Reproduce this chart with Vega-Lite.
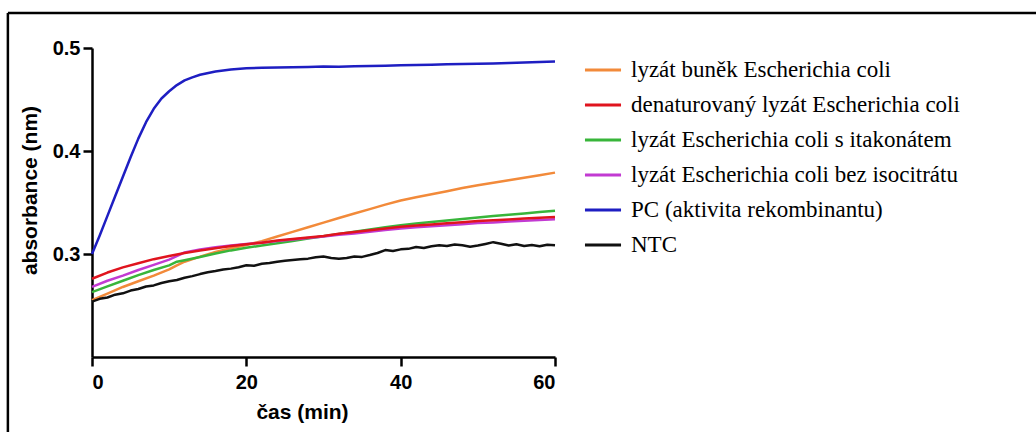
{
  "$schema": "https://vega.github.io/schema/vega-lite/v6.json",
  "width": 463,
  "height": 309,
  "autosize": {"type": "none"},
  "padding": {"left": 92, "top": 48, "right": 481, "bottom": 75},
  "background": "white",
  "config": {"view": {"stroke": null}},
  "datasets": {
    "curves": [
      {"s": "PC (aktivita rekombinantu)", "t": 0, "v": 0.300},
      {"s": "PC (aktivita rekombinantu)", "t": 1, "v": 0.318},
      {"s": "PC (aktivita rekombinantu)", "t": 2, "v": 0.337},
      {"s": "PC (aktivita rekombinantu)", "t": 3, "v": 0.356},
      {"s": "PC (aktivita rekombinantu)", "t": 4, "v": 0.375},
      {"s": "PC (aktivita rekombinantu)", "t": 5, "v": 0.394},
      {"s": "PC (aktivita rekombinantu)", "t": 6, "v": 0.412},
      {"s": "PC (aktivita rekombinantu)", "t": 7, "v": 0.428},
      {"s": "PC (aktivita rekombinantu)", "t": 8, "v": 0.441},
      {"s": "PC (aktivita rekombinantu)", "t": 9, "v": 0.451},
      {"s": "PC (aktivita rekombinantu)", "t": 10, "v": 0.458},
      {"s": "PC (aktivita rekombinantu)", "t": 11, "v": 0.464},
      {"s": "PC (aktivita rekombinantu)", "t": 12, "v": 0.4685},
      {"s": "PC (aktivita rekombinantu)", "t": 13, "v": 0.4715},
      {"s": "PC (aktivita rekombinantu)", "t": 14, "v": 0.474},
      {"s": "PC (aktivita rekombinantu)", "t": 16, "v": 0.4772},
      {"s": "PC (aktivita rekombinantu)", "t": 18, "v": 0.4792},
      {"s": "PC (aktivita rekombinantu)", "t": 20, "v": 0.4803},
      {"s": "PC (aktivita rekombinantu)", "t": 22, "v": 0.4808},
      {"s": "PC (aktivita rekombinantu)", "t": 24, "v": 0.4810},
      {"s": "PC (aktivita rekombinantu)", "t": 26, "v": 0.4812},
      {"s": "PC (aktivita rekombinantu)", "t": 28, "v": 0.4815},
      {"s": "PC (aktivita rekombinantu)", "t": 30, "v": 0.4820},
      {"s": "PC (aktivita rekombinantu)", "t": 32, "v": 0.4818},
      {"s": "PC (aktivita rekombinantu)", "t": 34, "v": 0.4822},
      {"s": "PC (aktivita rekombinantu)", "t": 36, "v": 0.4825},
      {"s": "PC (aktivita rekombinantu)", "t": 38, "v": 0.4828},
      {"s": "PC (aktivita rekombinantu)", "t": 40, "v": 0.4832},
      {"s": "PC (aktivita rekombinantu)", "t": 42, "v": 0.4834},
      {"s": "PC (aktivita rekombinantu)", "t": 44, "v": 0.4838},
      {"s": "PC (aktivita rekombinantu)", "t": 46, "v": 0.4842},
      {"s": "PC (aktivita rekombinantu)", "t": 48, "v": 0.4845},
      {"s": "PC (aktivita rekombinantu)", "t": 50, "v": 0.4848},
      {"s": "PC (aktivita rekombinantu)", "t": 52, "v": 0.4850},
      {"s": "PC (aktivita rekombinantu)", "t": 54, "v": 0.4855},
      {"s": "PC (aktivita rekombinantu)", "t": 56, "v": 0.4860},
      {"s": "PC (aktivita rekombinantu)", "t": 58, "v": 0.4865},
      {"s": "PC (aktivita rekombinantu)", "t": 60, "v": 0.4870},

      {"s": "lyzát buněk Escherichia coli", "t": 0, "v": 0.2553},
      {"s": "lyzát buněk Escherichia coli", "t": 2, "v": 0.2615},
      {"s": "lyzát buněk Escherichia coli", "t": 4, "v": 0.2680},
      {"s": "lyzát buněk Escherichia coli", "t": 6, "v": 0.2735},
      {"s": "lyzát buněk Escherichia coli", "t": 8, "v": 0.2790},
      {"s": "lyzát buněk Escherichia coli", "t": 10, "v": 0.2850},
      {"s": "lyzát buněk Escherichia coli", "t": 11, "v": 0.2890},
      {"s": "lyzát buněk Escherichia coli", "t": 12, "v": 0.2925},
      {"s": "lyzát buněk Escherichia coli", "t": 14, "v": 0.2975},
      {"s": "lyzát buněk Escherichia coli", "t": 16, "v": 0.3020},
      {"s": "lyzát buněk Escherichia coli", "t": 18, "v": 0.3055},
      {"s": "lyzát buněk Escherichia coli", "t": 20, "v": 0.3088},
      {"s": "lyzát buněk Escherichia coli", "t": 22, "v": 0.3125},
      {"s": "lyzát buněk Escherichia coli", "t": 24, "v": 0.3170},
      {"s": "lyzát buněk Escherichia coli", "t": 26, "v": 0.3215},
      {"s": "lyzát buněk Escherichia coli", "t": 28, "v": 0.3260},
      {"s": "lyzát buněk Escherichia coli", "t": 30, "v": 0.3305},
      {"s": "lyzát buněk Escherichia coli", "t": 32, "v": 0.3350},
      {"s": "lyzát buněk Escherichia coli", "t": 34, "v": 0.3393},
      {"s": "lyzát buněk Escherichia coli", "t": 36, "v": 0.3436},
      {"s": "lyzát buněk Escherichia coli", "t": 38, "v": 0.3479},
      {"s": "lyzát buněk Escherichia coli", "t": 40, "v": 0.3520},
      {"s": "lyzát buněk Escherichia coli", "t": 42, "v": 0.3550},
      {"s": "lyzát buněk Escherichia coli", "t": 44, "v": 0.3580},
      {"s": "lyzát buněk Escherichia coli", "t": 46, "v": 0.3610},
      {"s": "lyzát buněk Escherichia coli", "t": 48, "v": 0.3640},
      {"s": "lyzát buněk Escherichia coli", "t": 50, "v": 0.3668},
      {"s": "lyzát buněk Escherichia coli", "t": 52, "v": 0.3692},
      {"s": "lyzát buněk Escherichia coli", "t": 54, "v": 0.3716},
      {"s": "lyzát buněk Escherichia coli", "t": 56, "v": 0.3740},
      {"s": "lyzát buněk Escherichia coli", "t": 58, "v": 0.3765},
      {"s": "lyzát buněk Escherichia coli", "t": 60, "v": 0.3790},

      {"s": "lyzát Escherichia coli s itakonátem", "t": 0, "v": 0.2630},
      {"s": "lyzát Escherichia coli s itakonátem", "t": 2, "v": 0.2685},
      {"s": "lyzát Escherichia coli s itakonátem", "t": 4, "v": 0.2740},
      {"s": "lyzát Escherichia coli s itakonátem", "t": 6, "v": 0.2795},
      {"s": "lyzát Escherichia coli s itakonátem", "t": 8, "v": 0.2845},
      {"s": "lyzát Escherichia coli s itakonátem", "t": 10, "v": 0.2890},
      {"s": "lyzát Escherichia coli s itakonátem", "t": 11, "v": 0.2925},
      {"s": "lyzát Escherichia coli s itakonátem", "t": 12, "v": 0.2940},
      {"s": "lyzát Escherichia coli s itakonátem", "t": 14, "v": 0.2970},
      {"s": "lyzát Escherichia coli s itakonátem", "t": 16, "v": 0.3005},
      {"s": "lyzát Escherichia coli s itakonátem", "t": 18, "v": 0.3035},
      {"s": "lyzát Escherichia coli s itakonátem", "t": 20, "v": 0.3060},
      {"s": "lyzát Escherichia coli s itakonátem", "t": 22, "v": 0.3083},
      {"s": "lyzát Escherichia coli s itakonátem", "t": 24, "v": 0.3105},
      {"s": "lyzát Escherichia coli s itakonátem", "t": 26, "v": 0.3127},
      {"s": "lyzát Escherichia coli s itakonátem", "t": 28, "v": 0.3150},
      {"s": "lyzát Escherichia coli s itakonátem", "t": 30, "v": 0.3172},
      {"s": "lyzát Escherichia coli s itakonátem", "t": 32, "v": 0.3194},
      {"s": "lyzát Escherichia coli s itakonátem", "t": 34, "v": 0.3216},
      {"s": "lyzát Escherichia coli s itakonátem", "t": 36, "v": 0.3238},
      {"s": "lyzát Escherichia coli s itakonátem", "t": 38, "v": 0.3260},
      {"s": "lyzát Escherichia coli s itakonátem", "t": 40, "v": 0.3280},
      {"s": "lyzát Escherichia coli s itakonátem", "t": 42, "v": 0.3295},
      {"s": "lyzát Escherichia coli s itakonátem", "t": 44, "v": 0.3310},
      {"s": "lyzát Escherichia coli s itakonátem", "t": 46, "v": 0.3325},
      {"s": "lyzát Escherichia coli s itakonátem", "t": 48, "v": 0.3340},
      {"s": "lyzát Escherichia coli s itakonátem", "t": 50, "v": 0.3355},
      {"s": "lyzát Escherichia coli s itakonátem", "t": 52, "v": 0.3368},
      {"s": "lyzát Escherichia coli s itakonátem", "t": 54, "v": 0.3381},
      {"s": "lyzát Escherichia coli s itakonátem", "t": 56, "v": 0.3394},
      {"s": "lyzát Escherichia coli s itakonátem", "t": 58, "v": 0.3407},
      {"s": "lyzát Escherichia coli s itakonátem", "t": 60, "v": 0.3420},

      {"s": "lyzát Escherichia coli bez isocitrátu", "t": 0, "v": 0.2680},
      {"s": "lyzát Escherichia coli bez isocitrátu", "t": 2, "v": 0.2740},
      {"s": "lyzát Escherichia coli bez isocitrátu", "t": 4, "v": 0.2790},
      {"s": "lyzát Escherichia coli bez isocitrátu", "t": 6, "v": 0.2845},
      {"s": "lyzát Escherichia coli bez isocitrátu", "t": 8, "v": 0.2895},
      {"s": "lyzát Escherichia coli bez isocitrátu", "t": 10, "v": 0.2945},
      {"s": "lyzát Escherichia coli bez isocitrátu", "t": 12, "v": 0.3015},
      {"s": "lyzát Escherichia coli bez isocitrátu", "t": 14, "v": 0.3045},
      {"s": "lyzát Escherichia coli bez isocitrátu", "t": 16, "v": 0.3065},
      {"s": "lyzát Escherichia coli bez isocitrátu", "t": 18, "v": 0.3082},
      {"s": "lyzát Escherichia coli bez isocitrátu", "t": 20, "v": 0.3097},
      {"s": "lyzát Escherichia coli bez isocitrátu", "t": 22, "v": 0.3110},
      {"s": "lyzát Escherichia coli bez isocitrátu", "t": 24, "v": 0.3125},
      {"s": "lyzát Escherichia coli bez isocitrátu", "t": 26, "v": 0.3140},
      {"s": "lyzát Escherichia coli bez isocitrátu", "t": 28, "v": 0.3155},
      {"s": "lyzát Escherichia coli bez isocitrátu", "t": 30, "v": 0.3170},
      {"s": "lyzát Escherichia coli bez isocitrátu", "t": 32, "v": 0.3186},
      {"s": "lyzát Escherichia coli bez isocitrátu", "t": 34, "v": 0.3200},
      {"s": "lyzát Escherichia coli bez isocitrátu", "t": 36, "v": 0.3216},
      {"s": "lyzát Escherichia coli bez isocitrátu", "t": 38, "v": 0.3232},
      {"s": "lyzát Escherichia coli bez isocitrátu", "t": 40, "v": 0.3248},
      {"s": "lyzát Escherichia coli bez isocitrátu", "t": 42, "v": 0.3260},
      {"s": "lyzát Escherichia coli bez isocitrátu", "t": 44, "v": 0.3270},
      {"s": "lyzát Escherichia coli bez isocitrátu", "t": 46, "v": 0.3280},
      {"s": "lyzát Escherichia coli bez isocitrátu", "t": 48, "v": 0.3290},
      {"s": "lyzát Escherichia coli bez isocitrátu", "t": 50, "v": 0.3300},
      {"s": "lyzát Escherichia coli bez isocitrátu", "t": 52, "v": 0.3307},
      {"s": "lyzát Escherichia coli bez isocitrátu", "t": 54, "v": 0.3315},
      {"s": "lyzát Escherichia coli bez isocitrátu", "t": 56, "v": 0.3322},
      {"s": "lyzát Escherichia coli bez isocitrátu", "t": 58, "v": 0.3330},
      {"s": "lyzát Escherichia coli bez isocitrátu", "t": 60, "v": 0.3337},

      {"s": "denaturovaný lyzát Escherichia coli", "t": 0, "v": 0.2760},
      {"s": "denaturovaný lyzát Escherichia coli", "t": 2, "v": 0.2820},
      {"s": "denaturovaný lyzát Escherichia coli", "t": 4, "v": 0.2870},
      {"s": "denaturovaný lyzát Escherichia coli", "t": 6, "v": 0.2910},
      {"s": "denaturovaný lyzát Escherichia coli", "t": 8, "v": 0.2950},
      {"s": "denaturovaný lyzát Escherichia coli", "t": 10, "v": 0.2980},
      {"s": "denaturovaný lyzát Escherichia coli", "t": 12, "v": 0.3010},
      {"s": "denaturovaný lyzát Escherichia coli", "t": 14, "v": 0.3035},
      {"s": "denaturovaný lyzát Escherichia coli", "t": 16, "v": 0.3055},
      {"s": "denaturovaný lyzát Escherichia coli", "t": 18, "v": 0.3078},
      {"s": "denaturovaný lyzát Escherichia coli", "t": 20, "v": 0.3095},
      {"s": "denaturovaný lyzát Escherichia coli", "t": 22, "v": 0.3110},
      {"s": "denaturovaný lyzát Escherichia coli", "t": 24, "v": 0.3130},
      {"s": "denaturovaný lyzát Escherichia coli", "t": 26, "v": 0.3145},
      {"s": "denaturovaný lyzát Escherichia coli", "t": 28, "v": 0.3160},
      {"s": "denaturovaný lyzát Escherichia coli", "t": 30, "v": 0.3175},
      {"s": "denaturovaný lyzát Escherichia coli", "t": 32, "v": 0.3197},
      {"s": "denaturovaný lyzát Escherichia coli", "t": 34, "v": 0.3214},
      {"s": "denaturovaný lyzát Escherichia coli", "t": 36, "v": 0.3231},
      {"s": "denaturovaný lyzát Escherichia coli", "t": 38, "v": 0.3248},
      {"s": "denaturovaný lyzát Escherichia coli", "t": 40, "v": 0.3265},
      {"s": "denaturovaný lyzát Escherichia coli", "t": 42, "v": 0.3276},
      {"s": "denaturovaný lyzát Escherichia coli", "t": 44, "v": 0.3287},
      {"s": "denaturovaný lyzát Escherichia coli", "t": 46, "v": 0.3298},
      {"s": "denaturovaný lyzát Escherichia coli", "t": 48, "v": 0.3309},
      {"s": "denaturovaný lyzát Escherichia coli", "t": 50, "v": 0.3320},
      {"s": "denaturovaný lyzát Escherichia coli", "t": 52, "v": 0.3328},
      {"s": "denaturovaný lyzát Escherichia coli", "t": 54, "v": 0.3336},
      {"s": "denaturovaný lyzát Escherichia coli", "t": 56, "v": 0.3344},
      {"s": "denaturovaný lyzát Escherichia coli", "t": 58, "v": 0.3352},
      {"s": "denaturovaný lyzát Escherichia coli", "t": 60, "v": 0.3360},

      {"s": "NTC", "t": 0, "v": 0.2537},
      {"s": "NTC", "t": 1, "v": 0.2565},
      {"s": "NTC", "t": 2, "v": 0.2578},
      {"s": "NTC", "t": 3, "v": 0.2605},
      {"s": "NTC", "t": 4, "v": 0.2618},
      {"s": "NTC", "t": 5, "v": 0.2645},
      {"s": "NTC", "t": 6, "v": 0.2660},
      {"s": "NTC", "t": 7, "v": 0.2685},
      {"s": "NTC", "t": 8, "v": 0.2695},
      {"s": "NTC", "t": 9, "v": 0.2718},
      {"s": "NTC", "t": 10, "v": 0.2735},
      {"s": "NTC", "t": 11, "v": 0.2748},
      {"s": "NTC", "t": 12, "v": 0.2770},
      {"s": "NTC", "t": 13, "v": 0.2785},
      {"s": "NTC", "t": 14, "v": 0.2805},
      {"s": "NTC", "t": 15, "v": 0.2822},
      {"s": "NTC", "t": 16, "v": 0.2835},
      {"s": "NTC", "t": 17, "v": 0.2850},
      {"s": "NTC", "t": 18, "v": 0.2858},
      {"s": "NTC", "t": 19, "v": 0.2872},
      {"s": "NTC", "t": 20, "v": 0.2890},
      {"s": "NTC", "t": 21, "v": 0.2886},
      {"s": "NTC", "t": 22, "v": 0.2905},
      {"s": "NTC", "t": 23, "v": 0.2912},
      {"s": "NTC", "t": 24, "v": 0.2925},
      {"s": "NTC", "t": 25, "v": 0.2935},
      {"s": "NTC", "t": 26, "v": 0.2942},
      {"s": "NTC", "t": 27, "v": 0.2948},
      {"s": "NTC", "t": 28, "v": 0.2955},
      {"s": "NTC", "t": 29, "v": 0.2968},
      {"s": "NTC", "t": 30, "v": 0.2975},
      {"s": "NTC", "t": 31, "v": 0.2962},
      {"s": "NTC", "t": 32, "v": 0.2955},
      {"s": "NTC", "t": 33, "v": 0.2962},
      {"s": "NTC", "t": 34, "v": 0.2975},
      {"s": "NTC", "t": 35, "v": 0.2972},
      {"s": "NTC", "t": 36, "v": 0.2990},
      {"s": "NTC", "t": 37, "v": 0.3010},
      {"s": "NTC", "t": 38, "v": 0.3038},
      {"s": "NTC", "t": 39, "v": 0.3030},
      {"s": "NTC", "t": 40, "v": 0.3045},
      {"s": "NTC", "t": 41, "v": 0.3050},
      {"s": "NTC", "t": 42, "v": 0.3068},
      {"s": "NTC", "t": 43, "v": 0.3058},
      {"s": "NTC", "t": 44, "v": 0.3075},
      {"s": "NTC", "t": 45, "v": 0.3085},
      {"s": "NTC", "t": 46, "v": 0.3078},
      {"s": "NTC", "t": 47, "v": 0.3092},
      {"s": "NTC", "t": 48, "v": 0.3085},
      {"s": "NTC", "t": 49, "v": 0.3070},
      {"s": "NTC", "t": 50, "v": 0.3082},
      {"s": "NTC", "t": 51, "v": 0.3098},
      {"s": "NTC", "t": 52, "v": 0.3115},
      {"s": "NTC", "t": 53, "v": 0.3100},
      {"s": "NTC", "t": 54, "v": 0.3082},
      {"s": "NTC", "t": 55, "v": 0.3095},
      {"s": "NTC", "t": 56, "v": 0.3078},
      {"s": "NTC", "t": 57, "v": 0.3088},
      {"s": "NTC", "t": 58, "v": 0.3075},
      {"s": "NTC", "t": 59, "v": 0.3090},
      {"s": "NTC", "t": 60, "v": 0.3085}
    ],
    "frame": [{"part": "frame"}]
  },
  "resolve": {"axis": {"x": "independent", "y": "independent"}},
  "layer": [
    {
      "data": {"name": "curves"},
      "mark": {"type": "line", "strokeWidth": 2.5, "strokeJoin": "round"},
      "encoding": {
        "x": {
          "field": "t", "type": "quantitative",
          "scale": {"domain": [0, 60], "nice": false, "zero": false},
          "axis": {
            "title": "čas (min)", "values": [0, 20, 40, 60], "format": "d", "grid": false,
            "domainColor": "black", "domainWidth": 2.5, "tickColor": "black", "tickWidth": 2.5, "tickSize": 9,
            "labelFont": "Liberation Sans", "labelFontWeight": "bold", "labelFontSize": 20, "labelColor": "black", "labelPadding": 6,
            "titleFont": "Liberation Sans", "titleFontWeight": "bold", "titleFontSize": 21, "titleColor": "black", "titlePadding": 9, "titleX": 210
          }
        },
        "y": {
          "field": "v", "type": "quantitative",
          "scale": {"domain": [0.2, 0.5], "nice": false, "zero": false},
          "axis": {
            "title": "absorbance (nm)", "values": [0.3, 0.4, 0.5], "format": ".1f", "grid": false,
            "domainColor": "black", "domainWidth": 2.5, "tickColor": "black", "tickWidth": 2.5, "tickSize": 9,
            "labelFont": "Liberation Sans", "labelFontWeight": "bold", "labelFontSize": 20, "labelColor": "black", "labelPadding": 3,
            "titleFont": "Liberation Sans", "titleFontWeight": "bold", "titleFontSize": 21, "titleColor": "black", "titlePadding": 12, "titleY": 142
          }
        },
        "color": {
          "field": "s", "type": "nominal",
          "scale": {
            "domain": ["lyzát buněk Escherichia coli", "denaturovaný lyzát Escherichia coli", "lyzát Escherichia coli s itakonátem", "lyzát Escherichia coli bez isocitrátu", "PC (aktivita rekombinantu)", "NTC"],
            "range": ["#f28a3a", "#e0141e", "#38b53a", "#c23ad2", "#1e1ec2", "#111111"]
          },
          "legend": {
            "title": null, "orient": "none", "legendX": 491, "legendY": 2,
            "symbolType": "stroke", "symbolSize": 1300, "symbolStrokeWidth": 3,
            "labelFont": "Liberation Serif", "labelFontSize": 23, "labelColor": "black",
            "labelOffset": 8, "labelLimit": 700, "rowPadding": 3, "padding": 0
          }
        }
      }
    },
    {
      "data": {"name": "frame"},
      "mark": {"type": "rule", "color": "black", "strokeWidth": 2.5},
      "encoding": {
        "x": {"datum": -10.9, "type": "quantitative", "scale": {"domain": [0, 60], "nice": false, "zero": false}, "axis": null},
        "x2": {"datum": 122.5},
        "y": {"datum": 0.534, "type": "quantitative", "scale": {"domain": [0.2, 0.5], "nice": false, "zero": false}, "axis": null}
      }
    },
    {
      "data": {"name": "frame"},
      "mark": {"type": "rule", "color": "black", "strokeWidth": 2.5},
      "encoding": {
        "x": {"datum": -10.9, "type": "quantitative", "scale": {"domain": [0, 60], "nice": false, "zero": false}, "axis": null},
        "y": {"datum": 0.534, "type": "quantitative", "scale": {"domain": [0.2, 0.5], "nice": false, "zero": false}, "axis": null},
        "y2": {"datum": 0.12}
      }
    }
  ]
}
